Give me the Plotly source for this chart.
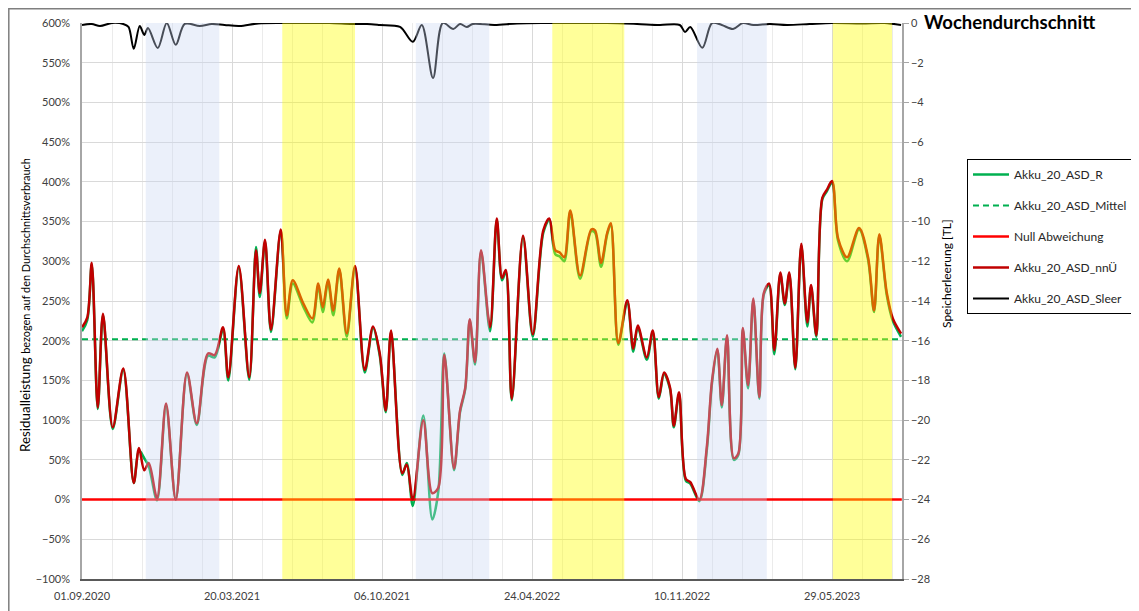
import plotly.graph_objects as go

# Wochenwerte Residualleistung (% bezogen auf den Durchschnittsverbrauch)
datum = [
    "2020-09-01", "2020-09-08", "2020-09-14", "2020-09-22", "2020-09-29", "2020-10-12",
    "2020-10-26", "2020-11-09", "2020-11-16", "2020-11-23", "2020-11-29", "2020-12-10",
    "2020-12-22", "2021-01-04", "2021-01-19", "2021-02-01", "2021-02-16", "2021-02-25",
    "2021-03-08", "2021-03-15", "2021-03-29", "2021-04-12", "2021-04-21", "2021-04-26",
    "2021-05-03", "2021-05-11", "2021-05-24", "2021-06-01", "2021-06-09", "2021-06-23",
    "2021-07-05", "2021-07-13", "2021-07-19", "2021-07-26", "2021-08-02", "2021-08-10",
    "2021-08-20", "2021-08-31", "2021-09-13", "2021-09-24", "2021-10-03", "2021-10-11",
    "2021-10-18", "2021-11-02", "2021-11-08", "2021-11-16", "2021-11-30", "2021-12-12",
    "2021-12-20", "2021-12-28", "2022-01-10", "2022-01-18", "2022-01-25", "2022-01-31",
    "2022-02-07", "2022-02-15", "2022-02-27", "2022-03-08", "2022-03-15", "2022-03-20",
    "2022-03-28", "2022-04-12", "2022-04-25", "2022-05-09", "2022-05-17", "2022-05-25",
    "2022-05-31", "2022-06-06", "2022-06-14", "2022-06-27", "2022-07-12", "2022-07-17",
    "2022-07-25", "2022-08-02", "2022-08-07", "2022-08-17", "2022-08-29", "2022-09-06",
    "2022-09-12", "2022-09-24", "2022-10-02", "2022-10-10", "2022-10-17", "2022-10-25",
    "2022-10-30", "2022-11-06", "2022-11-15", "2022-11-21", "2022-12-03", "2022-12-13",
    "2022-12-20", "2022-12-27", "2023-01-02", "2023-01-09", "2023-01-18", "2023-01-24",
    "2023-01-30", "2023-02-06", "2023-02-13", "2023-02-21", "2023-02-27", "2023-03-06",
    "2023-03-13", "2023-03-21", "2023-03-27", "2023-04-02", "2023-04-10", "2023-04-18",
    "2023-04-26", "2023-05-01", "2023-05-08", "2023-05-16", "2023-05-22", "2023-05-29",
    "2023-06-06", "2023-06-18", "2023-07-04", "2023-07-16", "2023-07-24", "2023-07-31",
    "2023-08-10", "2023-08-18", "2023-08-29",
]

akku_nnue = [
    217, 229, 298, 116, 234, 91, 165, 21, 65, 37, 46, 2,
    121, 0, 160, 96, 184, 182, 217, 154, 294, 154, 314, 260,
    327, 214, 340, 232, 276, 247, 228, 272, 242, 277, 238, 291,
    209, 294, 163, 218, 184, 112, 213, 33, 44, 0, 100, 8,
    15, 182, 39, 112, 141, 227, 173, 314, 217, 354, 279, 289,
    127, 332, 208, 339, 354, 314, 311, 305, 364, 282, 340, 339,
    298, 335, 348, 197, 251, 190, 219, 179, 213, 129, 160, 141,
    93, 135, 26, 22, 0, 66, 150, 190, 119, 207, 52, 58,
    216, 144, 253, 129, 260, 272, 188, 286, 247, 286, 166, 322,
    223, 270, 207, 380, 390, 401, 329, 305, 342, 305, 238, 334,
    260, 228, 209,
]

akku_r = [
    212, 226, 296, 114, 232, 89, 163, 21, 62, 52, 42, -1,
    118, 0, 158, 94, 181, 179, 214, 150, 292, 151, 318, 255,
    325, 211, 338, 228, 272, 243, 223, 269, 236, 274, 232, 289,
    205, 292, 160, 216, 181, 110, 211, 31, 46, -8, 106, -25,
    10, 184, 37, 110, 139, 225, 170, 312, 212, 352, 276, 286,
    125, 330, 205, 336, 352, 309, 306, 300, 362, 278, 338, 336,
    293, 333, 346, 195, 249, 186, 217, 176, 211, 127, 158, 139,
    91, 133, 24, 20, -2, 62, 147, 188, 116, 205, 50, 56,
    214, 140, 251, 127, 258, 270, 183, 284, 245, 284, 164, 320,
    218, 268, 205, 378, 388, 399, 326, 300, 340, 302, 236, 332,
    257, 225, 205,
]

mittel_wert = 202
null_wert = 0

# Speicherleerung [TL]
sleer_datum = [
    "2020-09-01", "2020-09-14", "2020-09-25", "2020-10-11", "2020-10-26", "2020-11-02",
    "2020-11-09", "2020-11-17", "2020-11-23", "2020-11-28", "2020-12-11", "2020-12-23",
    "2021-01-04", "2021-01-16", "2021-02-05", "2021-02-21", "2021-03-10", "2021-03-30",
    "2021-04-24", "2021-05-29", "2021-06-28", "2021-07-28", "2021-08-27", "2021-09-16",
    "2021-10-03", "2021-10-30", "2021-11-16", "2021-11-28", "2021-12-13", "2021-12-26",
    "2022-01-09", "2022-01-18", "2022-01-27", "2022-02-04", "2022-03-05", "2022-04-04",
    "2022-05-14", "2022-06-23", "2022-08-02", "2022-09-11", "2022-10-11", "2022-11-07",
    "2022-11-14", "2022-11-21", "2022-12-07", "2022-12-20", "2023-01-02", "2023-01-17",
    "2023-01-30", "2023-02-13", "2023-03-07", "2023-03-30", "2023-04-29", "2023-05-29",
    "2023-07-08", "2023-08-07", "2023-08-29",
]
sleer = [
    -0.1, -0.05, -0.15, 0, -0.05, -0.2,
    -1.3, -0.15, -0.6, -0.25, -1.26, 0,
    -1.1, -0.05, -0.15, -0.05, -0.1, -0.15,
    -0.02, 0, 0, 0, -0.05, -0.05,
    -0.1, -0.2, -0.95, -0.1, -2.77, 0,
    -0.3, -0.05, -0.2, -0.05, -0.1, -0.02,
    0, 0, 0, -0.05, -0.1, -0.1,
    -0.45, -0.2, -1.25, 0, -0.1, -0.3,
    0, -0.1, -0.05, -0.1, -0.05, 0,
    -0.02, 0, -0.1,
]

# Winter- (blau) und Sommerzeitraeume (gelb)
winter_start = ["2020-11-25", "2021-11-20", "2022-11-30"]
winter_ende = ["2021-03-03", "2022-02-26", "2023-03-03"]
sommer_start = ["2021-05-26", "2022-05-21", "2023-05-30"]
sommer_ende = ["2021-08-31", "2022-08-25", "2023-08-17"]

achse_font = dict(family="Lato, sans-serif", size=11, color="#404040")
TAG_MS = 86400000

# Die Seite hat 8px Rand -> Figur etwas kleiner, Plotbereich bleibt bei 82..902 / 23..579
PX_L, PX_B, PW, PH = 82, 579, 820, 556


def px_x(x):
    return (x - PX_L) / PW


def px_y(y):
    return (PX_B - y) / PH


fig = go.Figure()

fig.add_trace(go.Scatter(
    x=datum, y=akku_r, name="Akku_20_ASD_R", legendgroup="r",
    mode="lines", line=dict(color="#00B050", width=2.5, shape="spline", smoothing=0.9),
))
fig.add_trace(go.Scatter(
    x=[datum[0], datum[-1]], y=[mittel_wert, mittel_wert], name="Akku_20_ASD_Mittel",
    legendgroup="m", mode="lines", line=dict(color="#00B050", width=2, dash="6px,4px"),
))
fig.add_trace(go.Scatter(
    x=[datum[0], "2023-08-30"], y=[null_wert, null_wert], name="Null Abweichung",
    legendgroup="n", mode="lines", line=dict(color="#FF0000", width=2.5),
))
fig.add_trace(go.Scatter(
    x=datum, y=akku_nnue, name="Akku_20_ASD_nnÜ", legendgroup="u",
    mode="lines", line=dict(color="#C00000", width=2.5, shape="spline", smoothing=0.9),
))
fig.add_trace(go.Scatter(
    x=sleer_datum, y=sleer, name="Akku_20_ASD_Sleer", legendgroup="s", yaxis="y2",
    mode="lines", line=dict(color="#000000", width=2, shape="spline", smoothing=0.9),
))

# Jahreszeiten als halbtransparente Baender ueber den Linien
shapes = []
for s, e in zip(winter_start, winter_ende):
    shapes.append(dict(type="rect", xref="x", yref="paper", x0=s, x1=e, y0=0, y1=1,
                       fillcolor="rgba(200,214,240,0.36)", line=dict(width=0), layer="above"))
for s, e in zip(sommer_start, sommer_ende):
    shapes.append(dict(type="rect", xref="x", yref="paper", x0=s, x1=e, y0=0, y1=1,
                       fillcolor="rgba(255,255,0,0.4)", line=dict(width=0), layer="above"))
# Rahmen um das Diagramm
shapes.append(dict(type="rect", xref="paper", yref="paper",
                   x0=px_x(8.8), x1=px_x(1134), y0=px_y(613), y1=px_y(8.8),
                   line=dict(color="#7F7F7F", width=1.5), fillcolor="rgba(0,0,0,0)", layer="below"))

fig.update_layout(
    width=1131, height=603,
    margin=dict(l=74, r=237, t=15, b=32, autoexpand=False),
    paper_bgcolor="white", plot_bgcolor="white",
    font=achse_font,
    shapes=shapes,
    showlegend=True,
    legend=dict(
        x=px_x(967), y=px_y(159), xanchor="left", yanchor="top",
        bordercolor="#000000", borderwidth=1, bgcolor="white",
        font=dict(family="Lato, sans-serif", size=12, color="#262626"),
        tracegroupgap=12, itemwidth=36,
    ),
    annotations=[
        dict(text="<b>Wochendurchschnitt</b>", xref="paper", yref="paper",
             x=px_x(922), y=px_y(22), xanchor="left", yanchor="middle",
             showarrow=False, font=dict(family="Lato, sans-serif", size=18.5, color="#000000")),
        dict(text="Residualleistung <span style='font-size:10.9px'>bezogen auf den Durchschnittsverbrauch</span>",
             xref="paper", yref="paper", x=px_x(25), y=px_y(305), textangle=-90,
             xanchor="center", yanchor="middle", showarrow=False,
             font=dict(family="Lato, sans-serif", size=13.4, color="#000000")),
        dict(text="Speicherleerung [TL]", xref="paper", yref="paper",
             x=px_x(946), y=px_y(274), textangle=-90,
             xanchor="center", yanchor="middle", showarrow=False,
             font=dict(family="Lato, sans-serif", size=12, color="#000000")),
    ],
)

fig.update_xaxes(
    type="date", range=["2020-09-01", "2023-08-30 06:00"],
    tick0="2020-09-01", dtick=200 * TAG_MS, tickformat="%d.%m.%Y",
    showgrid=True, gridcolor="#D9D9D9", gridwidth=1,
    minor=dict(tick0="2020-09-01", dtick=40 * TAG_MS, showgrid=True, gridcolor="#EBEBEB"),
    showline=True, linecolor="#595959", linewidth=1.5,
    ticks="", ticklabelstandoff=6, tickfont=achse_font,
)

fig.update_layout(
    yaxis=dict(
        range=[-100, 600], dtick=50, ticksuffix="%",
        showgrid=True, gridcolor="#D9D9D9", zeroline=False,
        showline=True, linecolor="#A6A6A6", linewidth=1.5,
        ticks="", ticklabelstandoff=8, tickfont=achse_font,
    ),
    yaxis2=dict(
        range=[-28, 0], dtick=2, overlaying="y", side="right",
        showgrid=False, zeroline=False,
        showline=True, linecolor="#A6A6A6", linewidth=1.5,
        ticks="outside", ticklen=5, tickcolor="#A6A6A6", tickfont=achse_font,
    ),
)

fig.write_html("out.html")
